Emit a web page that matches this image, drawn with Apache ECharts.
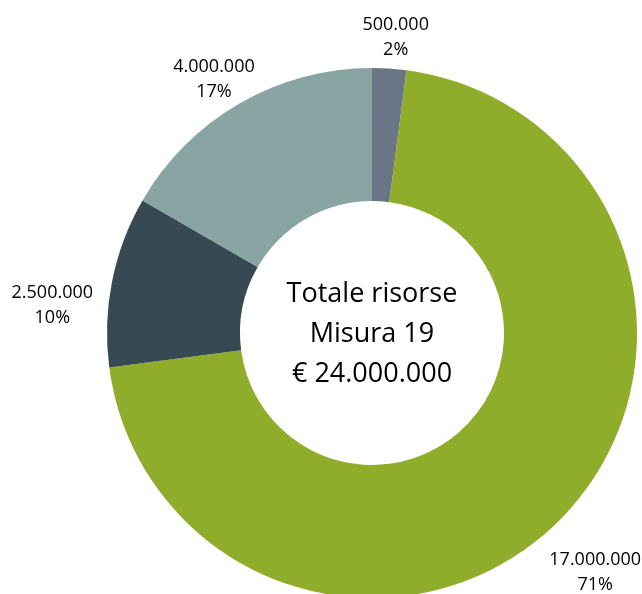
<!DOCTYPE html>
<html lang="it">
<head>
  <meta charset="UTF-8">
  <title>Totale risorse Misura 19</title>
  <script src="https://cdn.jsdelivr.net/npm/echarts@6/dist/echarts.min.js"></script>
  <style>
    html,body{padding:0;margin:0;background:#fff;}
    #chart{width:642px;height:594px;}
  </style>
</head>
<body>
  <div id="chart"></div>
  <script>
    // valori delle quote (in euro), in senso orario dall'alto
    var values = [500000, 17000000, 2500000, 4000000];
    var colors = ['#6a7686', '#8fac2a', '#374a54', '#88a4a3'];
    var centerLines = ['Totale risorse', 'Misura 19', '€ 24.000.000'];

    var cx = 372, cy = 333, rIn = 132, rOut = 265;
    // piccoli aggiustamenti delle etichette (come nel grafico originale)
    var labelNudge = [[4, 5], [-6, 10], [-7, 35], [0, 20]];
    var total = values.reduce(function (a, b) { return a + b; }, 0);

    function fmt(n) {
      return String(n).replace(/\B(?=(\d{3})+(?!\d))/g, '.');
    }

    var option = {
      animation: false,
      textStyle: {fontFamily: 'Open Sans'},
      graphic: [{
        type: 'text',
        x: cx,
        y: cy + 1,
        style: {
          text: centerLines.join('\n'),
          fill: '#000',
          font: '27px "Open Sans"',
          lineHeight: 40,
          align: 'center',
          verticalAlign: 'middle'
        }
      }],
      series: [{
        type: 'pie',
        center: [cx, cy],
        radius: [rIn, rOut],
        startAngle: 90,
        clockwise: true,
        avoidLabelOverlap: false,
        label: {
          show: true,
          position: 'outside',
          color: '#000',
          fontSize: 18,
          lineHeight: 25,
          fontFamily: 'Open Sans',
          formatter: function (p) {
            return fmt(p.value) + '\n' + Math.round(p.percent) + '%';
          }
        },
        labelLine: {show: false},
        labelLayout: function (p) {
          var start = 0;
          for (var i = 0; i < p.dataIndex; i++) start += values[i];
          var mid = (start + values[p.dataIndex] / 2) / total * Math.PI * 2;
          var ux = Math.sin(mid), uy = -Math.cos(mid);
          var w = p.labelRect.width, h = p.labelRect.height;
          var d = rOut + 9 + Math.abs(ux) * w / 2 + Math.abs(uy) * h / 2;
          var n = labelNudge[p.dataIndex];
          return {x: cx + ux * d + n[0], y: cy + uy * d + n[1], align: 'center', verticalAlign: 'middle'};
        },
        emphasis: {disabled: true},
        data: values.map(function (v, i) {
          return {value: v, itemStyle: {color: colors[i]}};
        })
      }]
    };

    var chart = echarts.init(document.getElementById('chart'));
    chart.setOption(option);
  </script>
</body>
</html>
